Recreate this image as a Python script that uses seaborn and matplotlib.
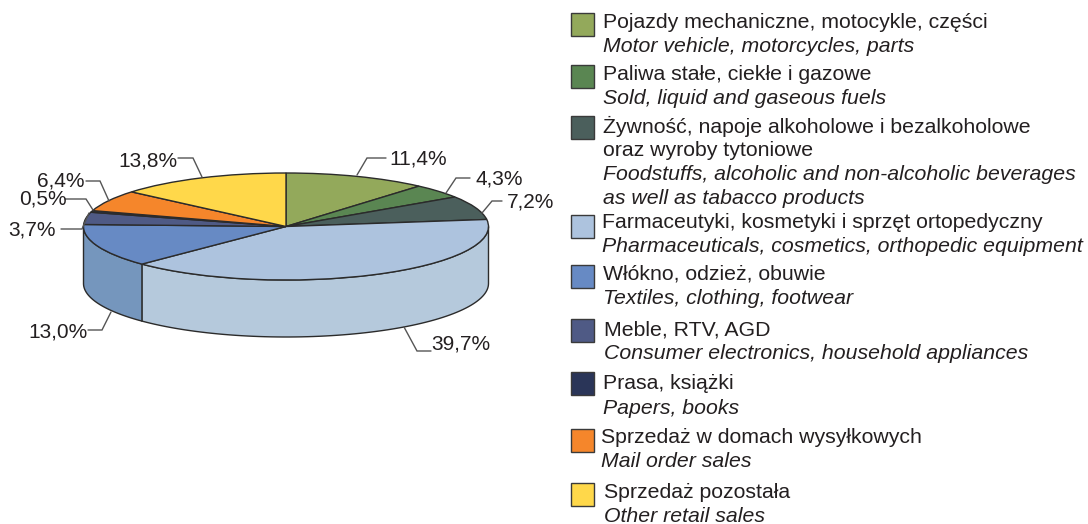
import matplotlib
matplotlib.use("Agg")
import matplotlib.pyplot as plt
from matplotlib.patches import Rectangle
import numpy as np
import seaborn as sns

# Udzial grup towarowych (%)
values = [11.4, 4.3, 7.2, 39.7, 13.0, 3.7, 0.5, 6.4, 13.8]
value_labels = ['11,4%', '4,3%', '7,2%', '39,7%', '13,0%', '3,7%', '0,5%', '6,4%', '13,8%']
names_pl = [
    ['Pojazdy mechaniczne, motocykle, części'],
    ['Paliwa stałe, ciekłe i gazowe'],
    ['Żywność, napoje alkoholowe i bezalkoholowe', 'oraz wyroby tytoniowe'],
    ['Farmaceutyki, kosmetyki i sprzęt ortopedyczny'],
    ['Włókno, odzież, obuwie'],
    ['Meble, RTV, AGD'],
    ['Prasa, książki'],
    ['Sprzedaż w domach wysyłkowych'],
    ['Sprzedaż pozostała'],
]
names_en = [
    ['Motor vehicle, motorcycles, parts'],
    ['Sold, liquid and gaseous fuels'],
    ['Foodstuffs, alcoholic and non-alcoholic beverages', 'as well as tabacco products'],
    ['Pharmaceuticals, cosmetics, orthopedic equipment'],
    ['Textiles, clothing, footwear'],
    ['Consumer electronics, household appliances'],
    ['Papers, books'],
    ['Mail order sales'],
    ['Other retail sales'],
]
top_colors = ['#93A95B', '#5A8652', '#4B5F5C', '#ADC3DE', '#678AC4', '#4F5A85', '#2A3558', '#F5862B', '#FFD84A']
side_colors = ['#93A95B', '#5A8652', '#4B5F5C', '#B5C9DC', '#7596BD', '#4F5A85', '#2A3558', '#F5862B', '#FFD84A']

sns.set_theme(style="white")
plt.rcParams['font.family'] = ['Liberation Sans', 'DejaVu Sans']
palette = sns.color_palette(top_colors)
side_palette = sns.color_palette(side_colors)

text_color = '#231F20'
edge_color = '#2B2B2B'

# Geometria "3D" w pikselach
cx, cy, rx, ry, depth = 286, 226.5, 202.5, 53.5, 57

fig = plt.figure(figsize=(10.88, 5.24), dpi=100)
ax = fig.add_axes([0, 0, 1, 1])

# Gorna powierzchnia tortu
ax.pie(values, colors=palette, startangle=90, counterclock=False, radius=1,
       wedgeprops={'edgecolor': edge_color, 'linewidth': 1.0, 'zorder': 3})
ax.set_aspect('auto')
ax.set_xlim(-cx / rx, (1088 - cx) / rx)
ax.set_ylim((cy - 524) / ry, cy / ry)

# Boczne sciany: tylko przednia polowa (90-270 stopni od gory, zgodnie z zegarem)
depth_units = depth / ry
edges = np.concatenate([[0], np.cumsum(values)]) / np.sum(values) * 360
for start, stop, color in zip(edges[:-1], edges[1:], side_palette):
    a = max(start, 90)
    b = min(stop, 270)
    if b <= a:
        continue
    t = np.radians(np.linspace(a, b, 80))
    x = np.sin(t)
    y = np.cos(t)
    ax.fill(np.r_[x, x[::-1]], np.r_[y, y[::-1] - depth_units],
            facecolor=color, edgecolor=edge_color, linewidth=1.0, zorder=1)

# Warstwa z opisami w pikselach
over = fig.add_axes([0, 0, 1, 1], facecolor='none')
over.set_xlim(0, 1088)
over.set_ylim(524, 0)
over.axis('off')

# Linie odniesienia i etykiety wartosci
leaders = [
    [(357, 175), (367, 158), (386, 158)],
    [(446, 193), (456, 178), (470, 178)],
    [(482, 213), (492, 201), (502, 201)],
    [(404, 327), (417, 351), (431, 351)],
    [(111, 312), (102, 330), (88, 330)],
    [(89, 213), (82, 229), (61, 229)],
    [(93, 210), (86, 199), (65, 199)],
    [(109, 201), (100, 181), (86, 181)],
    [(202, 177), (193, 158), (178, 158)],
]
label_pos = [(389, 159, 'left'), (475, 179, 'left'), (507, 202, 'left'), (431, 344, 'left'),
             (88, 332, 'right'), (56, 230, 'right'), (67, 199, 'right'), (84, 181, 'right'),
             (177, 161, 'right')]
for pts, (lx, ly, ha), lab in zip(leaders, label_pos, value_labels):
    over.plot(*zip(*pts), color='#555555', linewidth=1.0, solid_joinstyle='miter')
    over.text(lx, ly, lab, fontsize=15, color=text_color, ha=ha, va='center')

# Legenda
swatch_y = [13, 65, 116, 215, 265, 319, 372, 429, 483]
text_x = [603, 603, 603, 602, 603, 604, 603, 601, 604]
line_y = [
    [22.5, 46.5], [74.5, 98.5], [126.5, 150.5, 174.5, 198.5], [222.5, 246.5], [274.5, 298.5],
    [329.5, 353.5], [383.5, 408], [437.5, 461.5], [492.5, 516.5],
]
for i, color in enumerate(palette):
    over.add_patch(Rectangle((570.5, swatch_y[i]), 23, 23, facecolor=color,
                             edgecolor='#3A3A3A', linewidth=1.0))
    lines = [(s, 'normal') for s in names_pl[i]] + [(s, 'italic') for s in names_en[i]]
    for (s, style), y in zip(lines, line_y[i]):
        over.text(text_x[i], y, s, fontsize=15.35, style=style, color=text_color,
                  ha='left', va='center')

fig.savefig('out.png', dpi=100)
